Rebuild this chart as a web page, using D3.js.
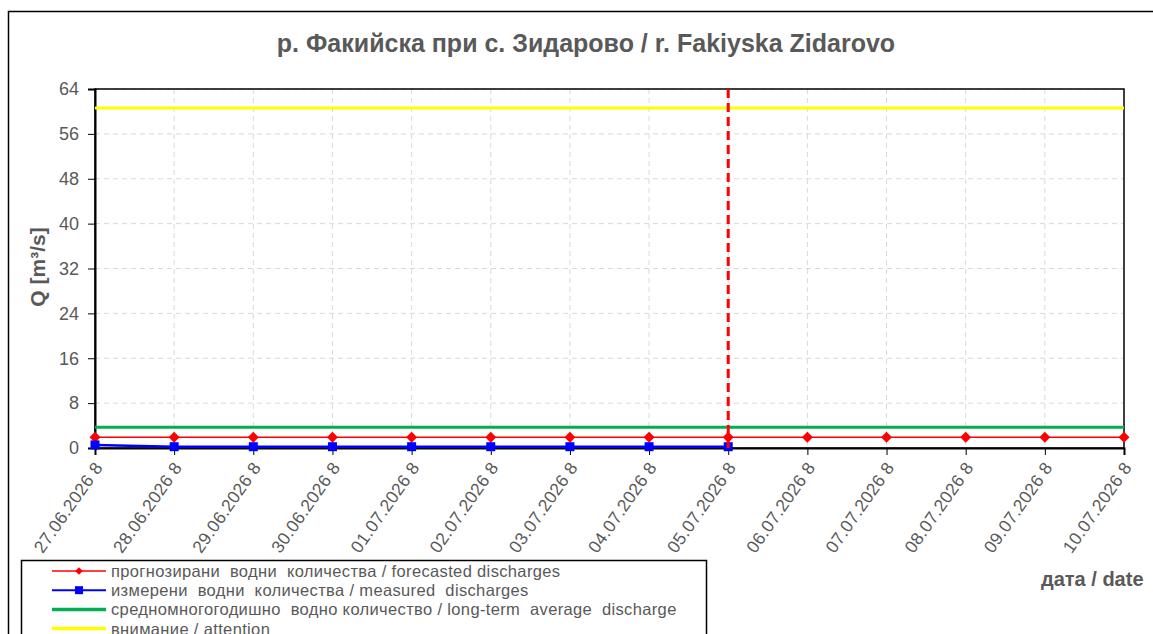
<!DOCTYPE html>
<html>
  <head>
    <meta charset="utf-8">
    <title>Fakiyska Zidarovo</title>
    <script src="https://d3js.org/d3.v7.min.js"></script>
    <style>
      body { margin: 0; background: #fff; font-family: Arial, "Liberation Sans", sans-serif; }
      svg { display: block; }
    </style>
  </head>
  <body>
    <svg id="chart" width="1153" height="634"></svg>
    <script>
      // data
      var dates = ["27.06.2026 8", "28.06.2026 8", "29.06.2026 8", "30.06.2026 8", "01.07.2026 8",
        "02.07.2026 8", "03.07.2026 8", "04.07.2026 8", "05.07.2026 8", "06.07.2026 8",
        "07.07.2026 8", "08.07.2026 8", "09.07.2026 8", "10.07.2026 8"];
      var forecast = [1.9, 1.9, 1.9, 1.9, 1.9, 1.9, 1.9, 1.9, 1.9, 1.9, 1.9, 1.9, 1.9, 1.9];
      var measured = [0.55, 0.23, 0.23, 0.23, 0.23, 0.23, 0.23, 0.23, 0.23];
      var average = 3.7;
      var attention = 60.6;
      var todayIndex = 8;
      var yTicks = [0, 8, 16, 24, 32, 40, 48, 56, 64];
      var legendLabels = [
        "прогнозирани  водни  количества / forecasted discharges",
        "измерени  водни  количества / measured  discharges",
        "средномногогодишно  водно количество / long-term  average  discharge",
        "внимание / attention"
      ];

      var grey = "#595959";
      var font = "Arial, 'Liberation Sans', sans-serif";
      var svg = d3.select("#chart");
      var margin = { left: 95, top: 89, right: 1124, bottom: 448 };

      // outer frame
      svg.append("rect")
        .attr("x", 8.5).attr("y", 11.5)
        .attr("width", 1160).attr("height", 640)
        .attr("fill", "#fff")
        .attr("stroke", "#000").attr("stroke-width", 1.5);

      var x = d3.scalePoint().domain(d3.range(dates.length)).range([margin.left, margin.right]);
      var y = d3.scaleLinear().domain([0, 64]).range([margin.bottom, margin.top]);

      // grid
      var grid = svg.append("g").attr("stroke", "#d9d9d9").attr("stroke-dasharray", "5,4");
      grid.selectAll(".gy").data(yTicks.slice(1)).enter().append("line")
        .attr("x1", margin.left).attr("x2", margin.right)
        .attr("y1", function(d) { return y(d); }).attr("y2", function(d) { return y(d); });
      grid.selectAll(".gx").data(d3.range(1, dates.length - 1)).enter().append("line")
        .attr("y1", margin.top).attr("y2", margin.bottom)
        .attr("x1", function(d) { return x(d); }).attr("x2", function(d) { return x(d); });

      // plot frame
      svg.append("rect")
        .attr("x", margin.left).attr("y", margin.top)
        .attr("width", margin.right - margin.left).attr("height", margin.bottom - margin.top)
        .attr("fill", "none").attr("stroke", "#000").attr("stroke-width", 1.5);

      // axes
      var yAxis = svg.append("g")
        .attr("transform", "translate(" + margin.left + ",0)")
        .call(d3.axisLeft(y).tickValues(yTicks).tickSize(7).tickPadding(9));
      yAxis.select(".domain").attr("stroke-width", 2);
      yAxis.selectAll("text").attr("font-size", 18).attr("fill", grey).attr("font-family", font);

      var xAxis = svg.append("g")
        .attr("transform", "translate(0," + margin.bottom + ")")
        .call(d3.axisBottom(x).tickSize(7).tickFormat(function(i) { return dates[i]; }));
      xAxis.select(".domain").attr("stroke-width", 2);
      xAxis.selectAll("text")
        .attr("font-size", 17.5).attr("fill", grey).attr("font-family", font)
        .attr("letter-spacing", 0.3)
        .attr("text-anchor", "end")
        .attr("dy", "0.35em")
        .attr("transform", "translate(3,16) rotate(-55)")
        .attr("x", 0).attr("y", 0);

      // reference lines
      svg.append("line")
        .attr("x1", margin.left).attr("x2", margin.right)
        .attr("y1", y(attention)).attr("y2", y(attention))
        .attr("stroke", "#ffff00").attr("stroke-width", 3);
      svg.append("line")
        .attr("x1", margin.left).attr("x2", margin.right)
        .attr("y1", y(average)).attr("y2", y(average))
        .attr("stroke", "#00b050").attr("stroke-width", 3);

      var line = d3.line()
        .x(function(d, i) { return x(i); })
        .y(function(d) { return y(d); });

      // forecast
      svg.append("path").datum(forecast)
        .attr("d", line).attr("fill", "none").attr("stroke", "#ff0000").attr("stroke-width", 1.5);
      svg.selectAll(".fc").data(forecast).enter().append("path")
        .attr("d", d3.symbol(d3.symbolSquare, 60))
        .attr("transform", function(d, i) { return "translate(" + x(i) + "," + y(d) + ") rotate(45)"; })
        .attr("fill", "#ff0000");

      // measured
      svg.append("path").datum(measured)
        .attr("d", line).attr("fill", "none").attr("stroke", "#0000ff").attr("stroke-width", 2.5);
      svg.selectAll(".ms").data(measured).enter().append("rect")
        .attr("x", function(d, i) { return x(i) - 4.5; })
        .attr("y", function(d) { return y(d) - 4.5; })
        .attr("width", 9).attr("height", 9)
        .attr("fill", "#0000ff");

      // today marker
      svg.append("line")
        .attr("x1", x(todayIndex)).attr("x2", x(todayIndex))
        .attr("y1", margin.top).attr("y2", margin.bottom)
        .attr("stroke", "#ff0000").attr("stroke-width", 3).attr("stroke-dasharray", "9,5");

      // titles
      svg.append("text")
        .attr("x", 586).attr("y", 52)
        .attr("text-anchor", "middle")
        .attr("font-size", 25).attr("font-weight", "bold").attr("fill", grey)
        .text("р. Факийска при с. Зидарово / r. Fakiyska Zidarovo");
      svg.append("text")
        .attr("transform", "translate(45," + 267 + ") rotate(-90)")
        .attr("text-anchor", "middle")
        .attr("font-size", 21).attr("font-weight", "bold").attr("fill", grey)
        .text("Q [m³/s]");
      svg.append("text")
        .attr("x", 1041).attr("y", 586)
        .attr("font-size", 20).attr("font-weight", "bold").attr("fill", grey)
        .text("дата / date");

      // legend
      var legend = svg.append("g").attr("transform", "translate(21,560)");
      legend.append("rect")
        .attr("x", 0.5).attr("y", 0.5).attr("width", 685).attr("height", 100)
        .attr("fill", "#fff").attr("stroke", "#000").attr("stroke-width", 1.5);
      var colors = ["#ff0000", "#0000ff", "#00b050", "#ffff00"];
      var widths = [1.5, 2, 3.5, 3.5];
      var rows = legend.selectAll(".row").data(legendLabels).enter().append("g")
        .attr("transform", function(d, i) { return "translate(0," + (11 + i * 19.2) + ")"; });
      rows.append("line")
        .attr("x1", 31).attr("x2", 85)
        .attr("stroke", function(d, i) { return colors[i]; })
        .attr("stroke-width", function(d, i) { return widths[i]; });
      rows.filter(function(d, i) { return i === 0; }).append("path")
        .attr("d", d3.symbol(d3.symbolSquare, 30))
        .attr("transform", "translate(58,0) rotate(45)").attr("fill", "#ff0000");
      rows.filter(function(d, i) { return i === 1; }).append("rect")
        .attr("x", 54).attr("y", -4).attr("width", 8).attr("height", 8).attr("fill", "#0000ff");
      rows.append("text")
        .attr("x", 90).attr("y", 6)
        .attr("font-size", 16.5).attr("fill", grey).attr("font-family", font)
        .attr("letter-spacing", 0.35)
        .style("white-space", "pre")
        .text(function(d) { return d; });
    </script>
  </body>
</html>
